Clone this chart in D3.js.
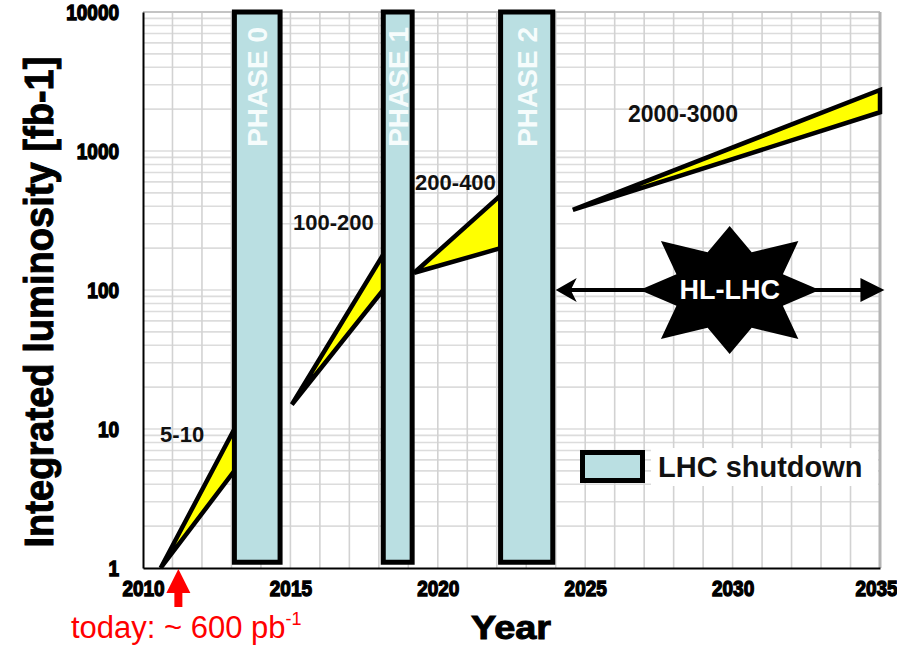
<!DOCTYPE html>
<html>
<head>
<meta charset="utf-8">
<script src="https://cdn.jsdelivr.net/npm/d3@7"></script>
<style>
	html, body { margin: 0; padding: 0; background: #fff; }
	svg { display: block; font-family: "Liberation Sans", Arial, sans-serif; }
</style>
</head>
<body>
<div id="chart"></div>
<script>
// axis ticks
var yearTicks = [2010, 2015, 2020, 2025, 2030, 2035];
var lumTicks = [1, 10, 100, 1000, 10000];

// LHC shutdowns (years), box spans the whole luminosity range
var phaseNames = ["PHASE 0", "PHASE 1", "PHASE 2"];
var phaseStart = [2013.1, 2018.15, 2022.13];
var phaseEnd = [2014.65, 2019.13, 2023.9];
var phaseLumLow = 1.1, phaseLumHigh = 10000;

// expected integrated luminosity bands [fb-1]
var bandNames = ["5-10", "100-200", "200-400", "2000-3000"];
var bandStartYear = [2010.6, 2015.05, 2019.2, 2024.58];
var bandStartLum = [1, 15, 133, 377];
var bandEndYear = [2013.1, 2018.15, 2022.13, 2035];
var bandHigh = [10, 180, 480, 2750];
var bandLow = [5, 100, 200, 1900];
var bandLabelYear = [2010.58, 2015.09, 2019.23, 2026.45];
var bandLabelLum = [8.1, 270, 525, 1620];

// HL-LHC period
var hlStart = 2024, hlEnd = 2035.15, hlLum = 100, hlCenter = 2029.9;
var today = 2011.2;

var W = 897, H = 648;
var svg = d3.select("#chart").append("svg").attr("width", W).attr("height", H);

var x = d3.scaleLinear().domain([2010, 2035]).range([143, 880]);
var y = d3.scaleLog().domain([1, 10000]).range([568, 12]);

/*** grid ***/
var grid = svg.append("g").attr("class", "grid");
var minor = [];
for(var k = 0; k < 4; k++){
	for(var m = 2; m <= 10; m++) minor.push(m * Math.pow(10, k));
}
grid.selectAll(".h").data(minor).enter().append("line")
	.attr("x1", x(2010)).attr("x2", x(2035))
	.attr("y1", function(d){ return y(d); }).attr("y2", function(d){ return y(d); })
	.attr("stroke", "#dcdcdc").attr("stroke-width", 1.6);
grid.selectAll(".v").data(d3.range(2011, 2035)).enter().append("line")
	.attr("x1", function(d){ return x(d); }).attr("x2", function(d){ return x(d); })
	.attr("y1", y(10000)).attr("y2", y(1))
	.attr("stroke", "#d2d2d2").attr("stroke-width", 1.6);
// grey frame top / right
grid.append("line").attr("x1", x(2010)).attr("x2", x(2035)).attr("y1", y(10000)).attr("y2", y(10000))
	.attr("stroke", "#c4c4c4").attr("stroke-width", 2);
grid.append("line").attr("x1", x(2035)).attr("x2", x(2035)).attr("y1", y(10000)).attr("y2", y(1))
	.attr("stroke", "#b4b4b4").attr("stroke-width", 3);

/*** band labels (behind the boxes) ***/
svg.append("g").selectAll("text").data(bandNames).enter().append("text")
	.attr("x", function(d, i){ return x(bandLabelYear[i]); })
	.attr("y", function(d, i){ return y(bandLabelLum[i]); })
	.attr("font-size", function(d, i){ return i == 3 ? 23 : 22; })
	.attr("font-weight", "bold").attr("fill", "#111")
	.text(function(d){ return d; });

/*** yellow wedges ***/
svg.append("g").selectAll("path").data(bandNames).enter().append("path")
	.attr("d", function(d, i){
		return "M" + x(bandStartYear[i]) + "," + y(bandStartLum[i])
			+ "L" + x(bandEndYear[i]) + "," + y(bandHigh[i])
			+ "L" + x(bandEndYear[i]) + "," + y(bandLow[i]) + "Z";
	})
	.attr("fill", "#ffff00").attr("stroke", "#000").attr("stroke-width", 4.5)
	.attr("stroke-linejoin", "miter").attr("stroke-miterlimit", 2);

/*** shutdown boxes ***/
var boxes = svg.append("g").selectAll("g").data(phaseNames).enter().append("g");
boxes.append("rect")
	.attr("x", function(d, i){ return x(phaseStart[i]); })
	.attr("y", y(phaseLumHigh))
	.attr("width", function(d, i){ return x(phaseEnd[i]) - x(phaseStart[i]); })
	.attr("height", y(phaseLumLow) - y(phaseLumHigh))
	.attr("fill", "#badfe2");
boxes.append("text")
	.attr("transform", function(d, i){
		var cx = (x(phaseStart[i]) + x(phaseEnd[i])) / 2 + 10;
		return "translate(" + cx + ",27) rotate(-90)";
	})
	.attr("text-anchor", "end").attr("font-size", 28).attr("font-weight", "bold")
	.attr("fill", "#f6fcfc")
	.text(function(d){ return d; });
boxes.append("rect")
	.attr("x", function(d, i){ return x(phaseStart[i]); })
	.attr("y", y(phaseLumHigh))
	.attr("width", function(d, i){ return x(phaseEnd[i]) - x(phaseStart[i]); })
	.attr("height", y(phaseLumLow) - y(phaseLumHigh))
	.attr("fill", "none").attr("stroke", "#000").attr("stroke-width", 5);

/*** HL-LHC arrow + star ***/
var hl = svg.append("g");
var ay = y(hlLum), ax1 = x(hlStart), ax2 = x(hlEnd);
hl.append("line").attr("x1", ax1 + 10).attr("x2", ax2 - 10).attr("y1", ay).attr("y2", ay)
	.attr("stroke", "#000").attr("stroke-width", 4);
hl.append("path").attr("d", "M" + ax1 + "," + ay + "L" + (ax1 + 21) + "," + (ay - 12) + "L" + (ax1 + 15) + "," + ay + "L" + (ax1 + 21) + "," + (ay + 12) + "Z")
	.attr("fill", "#000");
hl.append("path").attr("d", "M" + ax2 + "," + ay + "L" + (ax2 - 24) + "," + (ay - 12) + "L" + (ax2 - 24) + "," + (ay + 12) + "Z")
	.attr("fill", "#000");
var sx = x(hlCenter), pts = [];
for(var j = 0; j < 16; j++){
	var a = j * Math.PI / 8,
		r = j % 2 ? 0.64 : (j % 4 ? 1.08 : 1);
	pts.push([sx + Math.sin(a) * 90 * r, ay - Math.cos(a) * 64 * r]);
}
hl.append("path").attr("d", "M" + pts.join("L") + "Z").attr("fill", "#000");
hl.append("text").attr("x", sx).attr("y", ay + 9).attr("text-anchor", "middle")
	.attr("font-size", 27).attr("font-weight", "bold").attr("fill", "#fff").text("HL-LHC");

/*** legend ***/
var lg = svg.append("g");
lg.append("rect").attr("x", 651).attr("y", 448).attr("width", 227).attr("height", 38).attr("fill", "#fff");
lg.append("rect").attr("x", 582.5).attr("y", 452.5).attr("width", 60).attr("height", 28)
	.attr("fill", "#badfe2").attr("stroke", "#000").attr("stroke-width", 5);
lg.append("text").attr("x", 658).attr("y", 477).attr("font-size", 29).attr("font-weight", "bold")
	.attr("fill", "#111").text("LHC shutdown");

/*** axes ***/
var xAxis = svg.append("g").attr("transform", "translate(0," + y(1) + ")")
	.call(d3.axisBottom(x).tickValues(yearTicks).tickSize(0).tickPadding(10).tickFormat(d3.format("d")));
var yAxis = svg.append("g").attr("transform", "translate(" + x(2010) + ",0)")
	.call(d3.axisLeft(y).tickValues(lumTicks).tickSize(0).tickPadding(24).tickFormat(d3.format("d")));
[xAxis, yAxis].forEach(function(ax){
	ax.select(".domain").attr("stroke", "#000").attr("stroke-width", 2);
	ax.selectAll("text")
		.attr("font-family", "'Liberation Sans', Arial, sans-serif")
		.attr("font-size", 19).attr("font-weight", "bold")
		.attr("fill", "#000").attr("stroke", "#000").attr("stroke-width", 1.2)
		.attr("transform", "scale(1,1.2)");
});
// last year label sits against the page edge
xAxis.selectAll(".tick text").filter(function(d){ return d == 2035; }).attr("dx", -4);

svg.append("text").attr("transform", "translate(53,302) rotate(-90)")
	.attr("text-anchor", "middle").attr("font-size", 41).attr("font-weight", "bold")
	.attr("textLength", 491).attr("lengthAdjust", "spacingAndGlyphs")
	.attr("stroke", "#000").attr("stroke-width", 1)
	.text("Integrated luminosity [fb-1]");
svg.append("text").attr("x", 511).attr("y", 639).attr("text-anchor", "middle")
	.attr("font-size", 34).attr("font-weight", "bold")
	.attr("textLength", 80).attr("lengthAdjust", "spacingAndGlyphs")
	.attr("stroke", "#000").attr("stroke-width", 1).text("Year");

/*** today marker ***/
var tx = x(today);
svg.append("path")
	.attr("d", "M" + (tx - 4) + ",607L" + (tx - 4) + ",593L" + (tx - 12) + ",593L" + tx + ",569L"
		+ (tx + 12) + ",593L" + (tx + 4) + ",593L" + (tx + 4) + ",607Z")
	.attr("fill", "#ff0000");
var tt = svg.append("text").attr("x", 71).attr("y", 638).attr("font-size", 31).attr("fill", "#ff0000");
tt.append("tspan").text("today: ~ 600 pb");
tt.append("tspan").attr("font-size", 18).attr("dy", -13).text("-1");
</script>
</body>
</html>
